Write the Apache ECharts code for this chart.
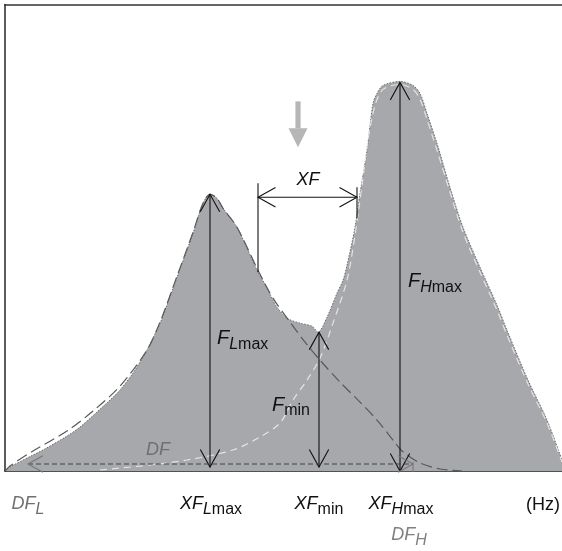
<!DOCTYPE html>
<html><head><meta charset="utf-8">
<script src="https://cdn.jsdelivr.net/npm/echarts@6/dist/echarts.min.js"></script>
<style>html,body{margin:0;padding:0;background:#fff}#c{width:562px;height:551px}</style>
</head><body><div id="c"></div>
<script>
// Combined spectrum envelope [frequency, amplitude] (arbitrary units)
const combinedCurve = [
  [0,0],[5,4],[28,16],[38,21],[62,35],[75,44],[105,71],[115,81],[128,98],[138,114],
  [142,121],[155,148],[162,166],[172,194],[188,238],[198,268],[205,277],[212,273],
  [218,263],[232,244],[253,199],[260,187],[268,171],[272,164],[282,153],[295,148],
  [307,145],[313,139],[322,154],[332,178],[338,191],[342,206],[350,244],[355,278],
  [362,321],[368,368],[372,378],[378,386],[395,390],[408,386],[415,378],[422,358],
  [432,328],[445,284],[458,244],[475,204],[492,166],[502,141],[523,91],[542,51],[557,11]
];
// Low-frequency component (dark dashed)
const lowComponent = [
  [0,0],[5,5],[28,20],[62,40],[88,60],[115,85],[142,121],[155,149],[172,195],[188,239],
  [198,268],[205,277],[212,273],[218,263],[232,244],[253,201],[268,173],[285,149],
  [300,129],[315,111],[335,89],[355,69],[372,51],[388,31],[397,20],[415,8],[435,2],[457,0]
];
// High-frequency component (light dashed)
const highComponent = [
  [95,1],[145,6],[182,11],[228,21],[255,34],[275,48],[288,71],[302,91],[315,113],
  [328,148],[342,191],[350,236],[357,286],[363,331],[370,366],[378,382],[395,387],
  [408,382],[415,372],[422,352],[432,321],[445,279],[458,239],[475,199],[492,161],
  [502,136],[523,87],[542,48],[557,9]
];
// Annotation arrows: [x1,y1,x2,y2]
const arrowFLmax = [205,4,205,277];
const arrowFmin  = [314,4,314,139];
const arrowFHmax = [395,0,395,389];
const arrowXF    = [253,274,352,274];
const arrowDF    = [23,7,408,7];
const tickXFLeft = [253,288,253,199];
const tickXFRight= [352,284,352,253];
const tickDFH    = [408,-1,408,9];
const grayArrow  = [293,370,293,324];

const FAM = '"Liberation Sans", Arial, Helvetica, sans-serif';
const mctx = document.createElement('canvas').getContext('2d');
function tw(font, t){ mctx.font = font; return mctx.measureText(t).width; }
const tstyles = {
  main:  {fs:'italic', sz:18, dy:0},
  big:   {fs:'italic', sz:20, dy:0},
  subI:  {fs:'italic', sz:16, dy:6},
  subU:  {fs:'normal', sz:16, dy:6},
  plain: {fs:'normal', sz:18, dy:0}
};
function fontOf(s){ return s.fs + ' ' + s.sz + 'px ' + FAM; }

const labels = [
  {x:23,  y:-33, anchor:'center', color:'#707070', parts:[['DF','main'],['L','subI']]},
  {x:206, y:-33, anchor:'center', color:'#111', parts:[['XF','main'],['L','subI'],['max','subU']]},
  {x:314, y:-33, anchor:'center', color:'#111', parts:[['XF','main'],['min','subU']]},
  {x:396, y:-33, anchor:'center', color:'#111', parts:[['XF','main'],['H','subI'],['max','subU']]},
  {x:538, y:-34, anchor:'center', color:'#111', parts:[['(Hz)','plain']]},
  {x:404, y:-64, anchor:'center', color:'#808080', parts:[['DF','main'],['H','subI']]},
  {x:153, y:21,  anchor:'center', color:'#707070', parts:[['DF','main']]},
  {x:303, y:291, anchor:'center', color:'#111', parts:[['XF','main']]},
  {x:212, y:133, anchor:'left', color:'#111', parts:[['F','big'],['L','subI'],['max','subU']]},
  {x:267, y:66,  anchor:'left', color:'#111', parts:[['F','big'],['min','subU']]},
  {x:403, y:190, anchor:'left', color:'#111', parts:[['F','big'],['H','subI'],['max','subU']]}
];

const arrows = [
  {c:arrowFLmax, start:true, end:true, color:'#111', head:20},
  {c:arrowFmin,  start:true, end:true, color:'#111', head:20},
  {c:arrowFHmax, start:true, end:true, color:'#111', head:20},
  {c:arrowXF,    start:true, end:true, color:'#111', head:20},
  {c:arrowDF,    start:true, end:true, color:'#444', headColor:'#777', head:17, dash:[5,3]},
  {c:tickXFLeft, color:'#111'},
  {c:tickXFRight,color:'#111'},
  {c:tickDFH,    color:'#777'}
];

function head(tip, from, len, ang){
  const dx = tip[0]-from[0], dy = tip[1]-from[1];
  const d = Math.sqrt(dx*dx+dy*dy) || 1;
  const ux = dx/d, uy = dy/d;
  const pts = [];
  [ang, -ang].forEach(a=>{
    const c = Math.cos(a), s = Math.sin(a);
    const rx = ux*c - uy*s, ry = ux*s + uy*c;
    pts.push([tip[0]-len*rx, tip[1]-len*ry]);
  });
  return [pts[0], tip, pts[1]];
}

const chart = echarts.init(document.getElementById('c'));
const noAxis = {axisTick:{show:false}, axisLabel:{show:false}, splitLine:{show:false}};
chart.setOption({
  animation:false,
  backgroundColor:'#fff',
  grid:{left:5, right:0, top:4.5, bottom:80},
  xAxis:[
    Object.assign({type:'value', min:0, max:557, position:'bottom',
      axisLine:{show:true, onZero:false, lineStyle:{color:'#1a1a1a', width:1.6}}}, noAxis),
    Object.assign({type:'value', min:0, max:557, position:'top',
      axisLine:{show:true, onZero:false, lineStyle:{color:'#333', width:1.6}}}, noAxis)
  ],
  yAxis:Object.assign({type:'value', min:0, max:467,
      axisLine:{show:true, onZero:false, lineStyle:{color:'#333', width:1.6}}}, noAxis),
  series:[
    {type:'line', data:combinedCurve, smooth:0.3, showSymbol:false, z:1,
     lineStyle:{color:'#5f5f5f', width:0.9, type:[1.5,1.5]},
     areaStyle:{color:'#a7a8ab', opacity:1}},
    {type:'line', data:lowComponent, smooth:0.3, showSymbol:false, z:2,
     lineStyle:{color:'#595959', width:1.2, type:[11,5]}},
    {type:'line', data:highComponent, smooth:0.3, showSymbol:false, z:3,
     lineStyle:{color:'#e4e4e4', width:1.2, type:[7,5]}},
    {type:'custom', z:5, clip:false,
     data:arrows.map(a=>a.c),
     encode:{x:[0,2], y:[1,3]},
     renderItem:function(params, api){
       const a = arrows[params.dataIndex];
       const p1 = api.coord([a.c[0], a.c[1]]);
       const p2 = api.coord([a.c[2], a.c[3]]);
       const children = [{type:'polyline', shape:{points:[p1,p2]},
         style:{stroke:a.color, lineWidth:1.1, fill:null, lineDash:a.dash||null}}];
       const hc = a.headColor || a.color;
       const ang = 29*Math.PI/180;
       if (a.start) children.push({type:'polyline', shape:{points:head(p1,p2,a.head,ang)},
         style:{stroke:hc, lineWidth:1.1, fill:null}});
       if (a.end) children.push({type:'polyline', shape:{points:head(p2,p1,a.head,ang)},
         style:{stroke:hc, lineWidth:1.1, fill:null}});
       return {type:'group', children};
     }},
    {type:'custom', z:5, clip:false,
     data:[grayArrow],
     encode:{x:[0,2], y:[1,3]},
     renderItem:function(params, api){
       const top = api.coord([grayArrow[0], grayArrow[1]]);
       const tip = api.coord([grayArrow[2], grayArrow[3]]);
       const hh = 19, hw = 9.5, sw = 2.6;
       return {type:'group', children:[
         {type:'rect', shape:{x:top[0]-sw, y:top[1], width:sw*2, height:tip[1]-hh-top[1]},
          style:{fill:'#b6b6b6'}},
         {type:'polygon', shape:{points:[[tip[0]-hw, tip[1]-hh],[tip[0]+hw, tip[1]-hh],[tip[0], tip[1]]]},
          style:{fill:'#b6b6b6'}}
       ]};
     }},
    {type:'custom', z:6, clip:false,
     data:labels.map(l=>[l.x,l.y]),
     renderItem:function(params, api){
       const L = labels[params.dataIndex];
       const p = api.coord([L.x, L.y]);
       const widths = L.parts.map(pt=>tw(fontOf(tstyles[pt[1]]), pt[0]));
       const total = widths.reduce((s,w)=>s+w,0);
       let x = L.anchor==='left' ? p[0] : p[0]-total/2;
       const children = [];
       L.parts.forEach((pt,i)=>{
         const s = tstyles[pt[1]];
         children.push({type:'text', style:{text:pt[0], x:x, y:p[1]+s.dy, font:fontOf(s),
           fill:L.color, align:'left', verticalAlign:'middle'}});
         x += widths[i];
       });
       return {type:'group', children};
     }}
  ]
});
</script></body></html>
